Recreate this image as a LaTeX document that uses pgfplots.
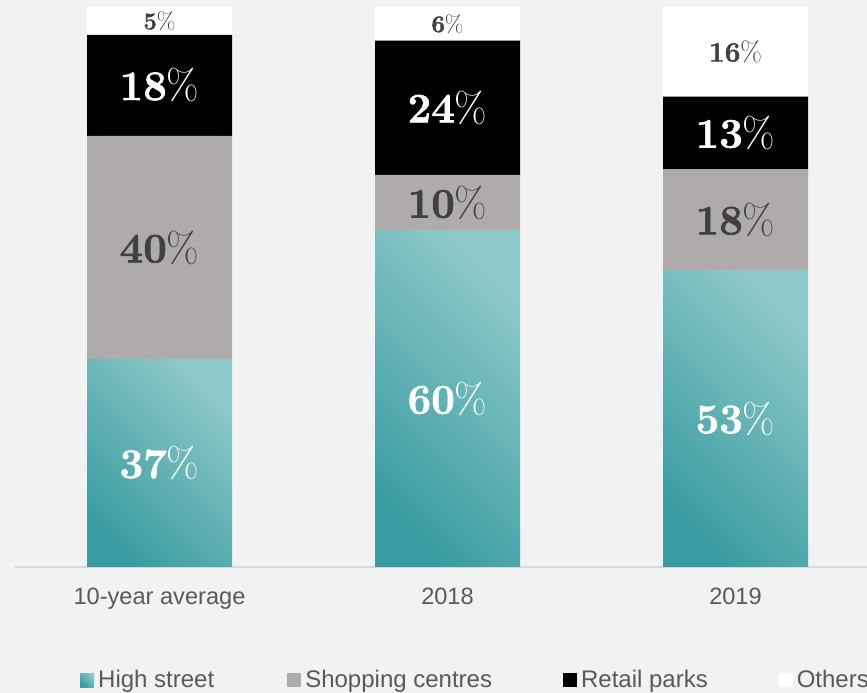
\documentclass[border=0pt]{standalone}
\usepackage{fontspec}
\usepackage{pgfplots}
\pgfplotsset{compat=1.18}
\newfontfamily\sansf{Liberation Sans}
\newfontfamily\labf{Latin Modern Roman}[BoldFeatures={FakeBold=1.5}]

\definecolor{bg}{HTML}{F2F2F2}
\definecolor{tealdark}{HTML}{3A9CA2}
\definecolor{teallight}{HTML}{8EC8C8}
\definecolor{shopgray}{HTML}{AFABAB}
\definecolor{labdark}{HTML}{404040}
\definecolor{ticktext}{HTML}{595959}
\definecolor{axisline}{HTML}{D9D9D9}

\tikzset{hsshade/.style={draw=none, bottom color=tealdark, top color=teallight, shading angle=-45}}

\pgfplotsset{
  common/.style={
    at={(0pt,0pt)}, anchor=south west,
    scale only axis, width=864pt, height=560pt,
    xmin=-0.5, xmax=2.5, ymin=0, ymax=100,
  },
  tealbar/.style={ybar, bar width=145pt, bar shift=0pt, hsshade},
  lab/.style={
    only marks, mark=none, point meta=explicit symbolic,
    nodes near coords={{\bfseries\pgfplotspointmeta}\%},
    every node near coord/.append style={anchor=center, inner sep=0pt,
      font=\labf\fontsize{#1}{#1}\selectfont},
  },
}

\begin{document}
\begin{tikzpicture}
\fill[bg] (-15.5pt,-126pt) rectangle (851.5pt,567pt);
\path[use as bounding box] (-15.5pt,-126pt) rectangle (851.5pt,567pt);

% stacked shares; the high street base is drawn shaded in the next axis
\begin{axis}[
  common,
  ybar stacked,
  bar width=145pt,
  axis x line*=bottom,
  axis y line=none,
  x axis line style={draw=axisline, line width=1.5pt, -},
  xtick={0,1,2},
  xticklabels={10-year average, 2018, 2019},
  xtick style={draw=none},
  x tick label style={anchor=base, yshift=-37pt, text=ticktext,
    font=\sansf\fontsize{23.6}{24}\selectfont},
  legend columns=4,
  legend image code/.code={\path[#1, draw=none] (0pt,-7pt) rectangle (14pt,7pt);},
  legend style={at={(0.0747,-0.2018)}, anchor=west, draw=none, fill=none,
    inner sep=0pt, text=ticktext, font=\sansf\fontsize{24}{24}\selectfont,
    nodes={inner xsep=2pt, inner ysep=0pt},
    /tikz/column 1/.style={column sep=2pt},
    /tikz/column 2/.style={column sep=71pt},
    /tikz/column 3/.style={column sep=2pt},
    /tikz/column 4/.style={column sep=69pt},
    /tikz/column 5/.style={column sep=2pt},
    /tikz/column 6/.style={column sep=69pt},
    /tikz/column 7/.style={column sep=2pt},
  },
]
\addplot[draw=none, fill=none,
  legend image code/.code={\path[hsshade] (0pt,-7pt) rectangle (14pt,7pt);}]
  coordinates {(0,37) (1,60) (2,53)};
\addplot[draw=none, fill=shopgray]
  coordinates {(0,40) (1,10) (2,18)};
\addplot[draw=none, fill=black]
  coordinates {(0,18) (1,24) (2,13)};
\addplot[draw=none, fill=white]
  coordinates {(0,5) (1,6) (2,16)};
\legend{High street, Shopping centres, Retail parks, Others}
\end{axis}

\begin{axis}[common, hide axis, clip=false]
% one plot per bar, so each bar gets its own gradient
\addplot[tealbar] coordinates {(0,37)};
\addplot[tealbar] coordinates {(1,60)};
\addplot[tealbar] coordinates {(2,53)};

\addplot[lab=42, every node near coord/.append style={text=white}]
  table[meta=lab] {
x y lab
0 18.5 37
1 30 60
2 26.5 53
0 86 18
1 82 24
2 77.5 13
};
\addplot[lab=42, every node near coord/.append style={text=labdark}]
  table[meta=lab] {
x y lab
0 57 40
1 65 10
2 62 18
};
\addplot[lab=24, every node near coord/.append style={text=labdark}]
  table[meta=lab] {
x y lab
0 97.5 5
1 97 6
};
\addplot[lab=28, every node near coord/.append style={text=labdark}]
  table[meta=lab] {
x y lab
2 92 16
};
\end{axis}
\end{tikzpicture}
\end{document}
